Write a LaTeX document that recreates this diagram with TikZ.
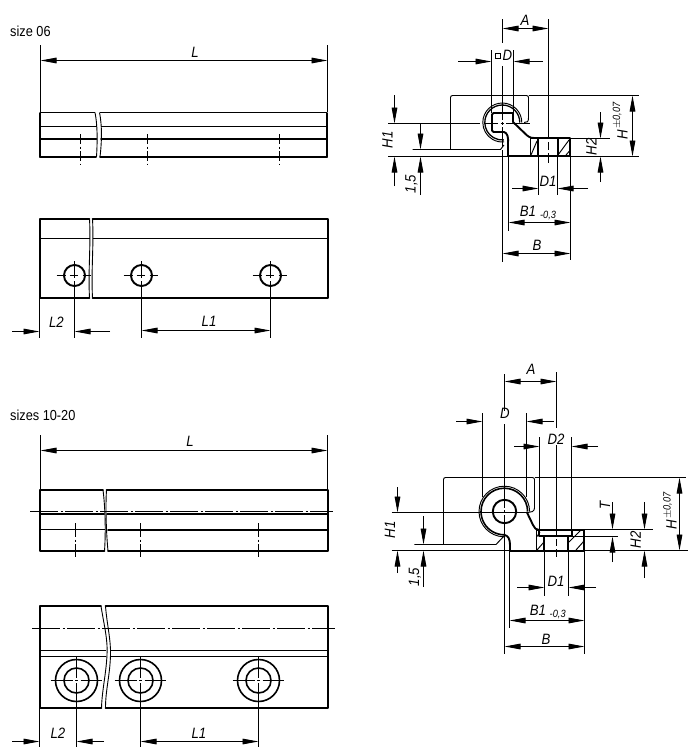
\documentclass[tikz,border=0pt]{standalone}
\usepackage{fontspec}
\setmainfont{Liberation Sans}
\newfontfamily\labf[FakeStretch=0.88]{Liberation Sans}
\usetikzlibrary{arrows.meta}
\tikzset{
  thin line/.style={line width=0.95pt,black},
  thick line/.style={line width=1.9pt,black,line cap=round,line join=round},
  mid line/.style={line width=1.3pt,black},
  breakline/.style={line width=0.9pt,black},
  center line/.style={line width=0.9pt,black,dash pattern=on 28pt off 2.5pt on 2pt off 2.5pt},
  tipsty/.tip={Triangle[length=16pt,width=5.6pt]},
  dimboth/.style={thin line,{tipsty}-{tipsty}},
  dimto/.style={thin line,-{tipsty}},
  lab/.style={font=\labf\itshape\fontsize{15}{15}\selectfont,inner sep=0pt},
  sublab/.style={font=\labf\itshape\fontsize{10.5}{10.5}\selectfont,inner sep=0pt},
  plain lab/.style={font=\labf\fontsize{14.5}{14.5}\selectfont,inner sep=0pt,anchor=west},
  hatch/.style={line width=0.95pt,black}
}
\begin{document}
\begin{tikzpicture}[x=1pt,y=-1pt]
\useasboundingbox (0,0) rectangle (698,750);
\fill[white] (0,0) rectangle (698,750);

%% ---------- size 06, side view
\node[plain lab] (s06) at (10,31) {size 06};
\draw[thin line] (40.5,45) -- (40.5,112) (327.5,45) -- (327.5,112);
\draw[dimboth] (40.5,60.5) -- (327.5,60.5);
\node[lab] (La) at (195,52) {L};
\draw[mid line] (40,112.5) -- (95,112.5) (100,112.5) -- (327,112.5);
\draw[mid line] (40,126.5) -- (96.5,126.5) (101,126.5) -- (327,126.5);
\draw[thick line] (40,139) -- (96.5,139) (101,139) -- (327,139);
\draw[thick line] (40,157) -- (96,157) (100,157) -- (327,157);
\draw[thick line] (40,113) -- (40,157) (327,113) -- (327,157);
\draw[breakline] (95,112.5) .. controls (97.5,125) and (97.5,140) .. (96.5,157);
\draw[breakline] (99.5,112.5) .. controls (102,125) and (102,140) .. (100,157);
\foreach \x in {80.5,147.5,279.5}
  \draw[thin line,dash pattern=on 10pt off 2.5pt on 2pt off 2.5pt] (\x,134) -- (\x,165);

%% ---------- size 06, top view
\draw[mid line] (40,238.5) -- (90,238.5) (92.5,238.5) -- (328,238.5);
\draw[thick line] (89.5,219) -- (40,219) -- (40,298) -- (89.5,298);
\draw[thick line] (92.5,219) -- (328,219) -- (328,298) -- (92.5,298);
\draw[breakline] (89.5,219) .. controls (91,245) and (88,270) .. (89.5,298);
\draw[breakline] (92.5,219) .. controls (94,245) and (91,270) .. (92.5,298);
\foreach \x in {74.5,141.5,270.5}{
  \draw[thick line] (\x,275.5) circle (10.5);
  \draw[thin line] (\x-18,275.5) -- (\x-9,275.5) (\x-5,275.5) -- (\x+3,275.5) (\x+8,275.5) -- (\x+16,275.5);
  \draw[thin line] (\x,261) -- (\x,278) (\x,281) -- (\x,290);
  \draw[thin line] (\x,290) -- (\x,338);
}
\draw[thin line] (39.5,298) -- (39.5,338);
\draw[dimto] (12,331.5) -- (39.5,331.5);
\draw[dimto] (110,331.5) -- (74.5,331.5);
\draw[dimboth] (141.5,330.5) -- (270.5,330.5);
\node[lab] (L2a) at (56.5,322) {L2};
\node[lab] (L1a) at (209,321) {L1};

%% ---------- sizes 10-20, side view
\node[plain lab] (s10) at (10,415) {sizes 10-20};
\draw[thin line] (40.5,435) -- (40.5,490) (327.5,435) -- (327.5,490);
\draw[dimboth] (40.5,450.5) -- (327.5,450.5);
\node[lab] (Lb) at (190,441) {L};
\draw[thick line] (103,490) -- (40,490) -- (40,551) -- (104.5,551);
\draw[thick line] (106.5,490) -- (328,490) -- (328,551) -- (108,551);
\draw[thick line] (40,514) -- (104,514) (107,514) -- (328,514);
\draw[mid line] (40,529.5) -- (104.5,529.5);
\draw[thick line] (108,530) -- (328,530);
\draw[breakline] (103,490) .. controls (105,505) and (106,530) .. (104.5,551);
\draw[breakline] (106.5,490) .. controls (105.5,505) and (106,530) .. (108,551);
\draw[center line] (30,511.5) -- (333,511.5);
\foreach \x in {75.5,140.5,258.5}
  \draw[thin line,dash pattern=on 14pt off 2.5pt on 2pt off 2.5pt] (\x,523) -- (\x,557);

%% ---------- sizes 10-20, top view
\draw[thick line] (101,606) -- (40,606) -- (40,708) -- (101.5,708);
\draw[thick line] (105.5,606) -- (328,606) -- (328,708) -- (105.5,708);
\draw[mid line] (40,650.5) -- (106,650.5) (110,650.5) -- (328,650.5);
\draw[mid line] (40,656.5) -- (106,656.5) (110,656.5) -- (328,656.5);
\draw[breakline] (101,606) .. controls (104,625) and (108,640) .. (107,655) .. controls (106,675) and (102,690) .. (101.5,708);
\draw[breakline] (105.5,606) .. controls (107,625) and (111,640) .. (110.5,655) .. controls (110,675) and (105.5,690) .. (105.5,708);
\draw[center line] (32,628.5) -- (335,628.5);
\foreach \x in {76.5,140.5,258.5}{
  \draw[mid line,line width=1.6pt] (\x,680.5) circle (21);
  \draw[mid line,line width=1.6pt] (\x,680.5) circle (12.5);
  \draw[thin line] (\x-26,680.5) -- (\x-4,680.5) (\x-1.5,680.5) -- (\x+1.5,680.5) (\x+4,680.5) -- (\x+25,680.5);
  \draw[thin line] (\x,657) -- (\x,678) (\x,683) -- (\x,747);
}
\draw[thin line] (39.5,708) -- (39.5,747);
\draw[dimto] (12,741.5) -- (39.5,741.5);
\draw[dimto] (104,741.5) -- (76.5,741.5);
\draw[dimboth] (140.5,741.5) -- (258.5,741.5);
\node[lab] (L2b) at (58,733) {L2};
\node[lab] (L1b) at (199,733) {L1};

%% ---------- size 06, section
% housing outline
\draw[thin line,rounded corners=2pt] (528.5,118) -- (528.5,95.5) -- (450.5,95.5) -- (450.5,149.5);
\draw[thin line] (528.5,95.5) -- (639,95.5);
\draw[thin line] (412.7,149.5) -- (500.5,149.5) -- (504,145);
\draw[thin line] (388,156.5) -- (508,156.5) (570,156.5) -- (639,156.5);
\draw[thin line] (388,123.5) -- (480,123.5) (484,123.5) -- (498,123.5) (500.5,123.5) -- (504,123.5) (506,123.5) -- (530,123.5);
\draw[thin line] (528.5,118) .. controls (528.5,122) and (527,122.5) .. (524,122.5);
% rail
\draw[thin line] (521.8,122.5) arc (0:-275:19.5);
\draw[mid line] (519.8,122.5) arc (0:-275:17.5);
\draw[thick line,rounded corners=1.5pt] (513,113) -- (492,113) -- (492,132) -- (504,132);
\draw[thick line] (504,132) .. controls (507.5,133) and (508.5,137) .. (508,144) -- (508,156) -- (570,156);
\draw[thick line] (513,113) -- (513,122) -- (525,133.5) .. controls (528,136.5) and (530,138) .. (534,138);
\draw[thick line] (531,138) -- (570,138) -- (570,156);
\draw[thick line] (538,138) -- (538,156) (558,138) -- (558,156);
\draw[thin line] (530.5,138) -- (530.5,156);
% hatch
\draw[hatch] (531,155) -- (537,141);
\draw[hatch] (558,155) -- (569,140) (566,155) -- (569.5,151);
% dims
\draw[thin line] (570,138.5) -- (610,138.5);
\draw[thin line] (502.5,19) -- (502.5,43) (502.5,66) -- (502.5,120) (502.5,122) -- (502.5,125)
   (502.5,127) -- (502.5,147) (502.5,150) -- (502.5,262);
\draw[thin line] (548.5,19) -- (548.5,138) (548.5,142) -- (548.5,150) (548.5,153) -- (548.5,163);
\draw[dimboth] (502.5,28.5) -- (548.5,28.5);
\node[lab] (Aa) at (525,20) {A};
\draw[thin line] (491.5,50) -- (491.5,113) (513.5,50) -- (513.5,113);
\draw[dimto] (458,61.5) -- (491.5,61.5);
\draw[dimto] (543,61.5) -- (513.5,61.5);
\draw[thin line] (495,53) rectangle (500,58);
\node[lab] (Da) at (507.5,55) {D};
\draw[dimto] (394.5,95) -- (394.5,123.5);
\draw[dimto] (394.5,186) -- (394.5,156.5);
\node[lab,rotate=90] (H1a) at (387.5,140) {H1};
\draw[dimto] (420.5,123.5) -- (420.5,149.5);
\draw[dimto] (420.5,195) -- (420.5,156.5);
\node[lab,rotate=90] (d15a) at (411.5,184) {1,5};
\draw[dimto] (600.5,112) -- (600.5,138.5);
\draw[dimto] (600.5,182) -- (600.5,156.5);
\node[lab,rotate=90] (H2a) at (591.5,147) {H2};
\draw[dimboth] (632.5,95.5) -- (632.5,156.5);
\node[lab,rotate=90] (Ha) at (622.5,134.5) {H};
\node[sublab,rotate=90] (Hta) at (617,115.5) {$\pm$0,07};
\draw[thin line] (538.5,156) -- (538.5,195) (557.5,156) -- (557.5,195);
\draw[dimto] (512,188.5) -- (538.5,188.5);
\draw[dimto] (588,188.5) -- (557.5,188.5);
\node[lab] (D1a) at (548,181) {D1};
\draw[thin line] (570.5,156) -- (570.5,260) (508.5,156) -- (508.5,231);
\draw[dimboth] (508.5,222.5) -- (570.5,222.5);
\node[lab] (B1a) at (528,211) {B1};
\node[sublab] (Tola) at (548,216) {-0,3};
\draw[dimboth] (502.5,253.5) -- (570.5,253.5);
\node[lab] (Ba) at (537,245) {B};

%% ---------- sizes 10-20, section
\draw[thin line,rounded corners=2pt] (534.5,502) -- (534.5,477.5) -- (443.5,477.5) -- (443.5,544.5);
\draw[thin line] (534.5,477.5) -- (686,477.5);
\draw[thin line] (414.3,544.5) -- (496,544.5) -- (505,535);
\draw[thin line] (391.7,550.5) -- (510,550.5) (584,550.5) -- (687.7,550.5);
\draw[thin line] (391.7,512.5) -- (528,512.5);
\draw[thin line] (534.5,500) -- (534.5,508) .. controls (534.5,511.5) and (531,512.5) .. (528,512.5);
% rail
\draw[mid line,line width=1.6pt] (527.6,511.5) arc (0:-272:23.3);
\draw[thin line] (529.6,511.5) arc (0:-268:25.3);
\draw[thick line] (504.5,535) .. controls (508,535.5) and (510,539) .. (510,545) -- (510,551) -- (584,551) -- (584,530) -- (537,530);
\draw[thick line] (527,512.5) -- (533,525) .. controls (534.5,528) and (536,530) .. (539,530);
\draw[thick line] (504.5,511.5) circle (11.7);
\draw[thick line] (539,530) -- (539,536) -- (572,536) -- (572,530);
\draw[thick line] (544,536) -- (544,551) (568,536) -- (568,551);
\draw[thin line] (536.5,530) -- (536.5,551);
% hatch
\draw[hatch] (537,536.5) -- (540,532) (537,550) -- (544,542);
\draw[hatch] (569,542) -- (581,530) (576,550) -- (584,541);
% dims
\draw[thin line] (584,529.5) -- (653,529.5) (572,536.5) -- (618,536.5);
\draw[thin line] (504.5,374) -- (504.5,411) (504.5,424) -- (504.5,508) (504.5,510) -- (504.5,513) (504.5,515) -- (504.5,654);
\draw[thin line] (556.5,372) -- (556.5,428) (556.5,445) -- (556.5,536) (556.5,539) -- (556.5,546) (556.5,549) -- (556.5,557);
\draw[dimboth] (504.5,381.5) -- (556.5,381.5);
\node[lab] (Ab) at (531,369) {A};
\draw[thin line] (482.5,413) -- (482.5,497) (526.5,413) -- (526.5,497);
\draw[dimto] (456,421.5) -- (482.5,421.5);
\draw[dimto] (554,421.5) -- (526.5,421.5);
\node[lab] (Db) at (505,413) {D};
\draw[thin line] (539.5,437) -- (539.5,529) (571.5,437) -- (571.5,529);
\draw[dimto] (514,446.5) -- (539.5,446.5);
\draw[dimto] (598,446.5) -- (571.5,446.5);
\node[lab] (D2b) at (556,439) {D2};
\draw[dimto] (397.5,487) -- (397.5,512.5);
\draw[dimto] (397.5,573) -- (397.5,550.5);
\node[lab,rotate=90] (H1b) at (390,530) {H1};
\draw[dimto] (423.5,516) -- (423.5,544.5);
\draw[dimto] (423.5,587) -- (423.5,550.5);
\node[lab,rotate=90] (d15b) at (415,577) {1,5};
\draw[dimto] (612.5,502) -- (612.5,529.5);
\draw[dimto] (612.5,562) -- (612.5,536.5);
\node[lab,rotate=90] (Tb) at (605,505) {T};
\draw[dimto] (644.5,502) -- (644.5,529.5);
\draw[dimto] (644.5,578) -- (644.5,550.5);
\node[lab,rotate=90] (H2b) at (635.7,540) {H2};
\draw[dimboth] (679.5,477.5) -- (679.5,550.5);
\node[lab,rotate=90] (Hb) at (671.5,525) {H};
\node[sublab,rotate=90] (Htb) at (667.5,505.5) {$\pm$0,07};
\draw[thin line] (544.5,551) -- (544.5,596) (568.5,551) -- (568.5,596);
\draw[dimto] (517,587.5) -- (544.5,587.5);
\draw[dimto] (596,587.5) -- (568.5,587.5);
\node[lab] (D1b) at (556,581) {D1};
\draw[thin line] (509.5,551) -- (509.5,628) (584.5,551) -- (584.5,654);
\draw[dimboth] (509.5,620.5) -- (584.5,620.5);
\node[lab] (B1b) at (538,610) {B1};
\node[sublab] (Tolb) at (557.7,614) {-0,3};
\draw[dimboth] (504.5,646.5) -- (584.5,646.5);
\node[lab] (Bb) at (546,639) {B};
\end{tikzpicture}
\end{document}
